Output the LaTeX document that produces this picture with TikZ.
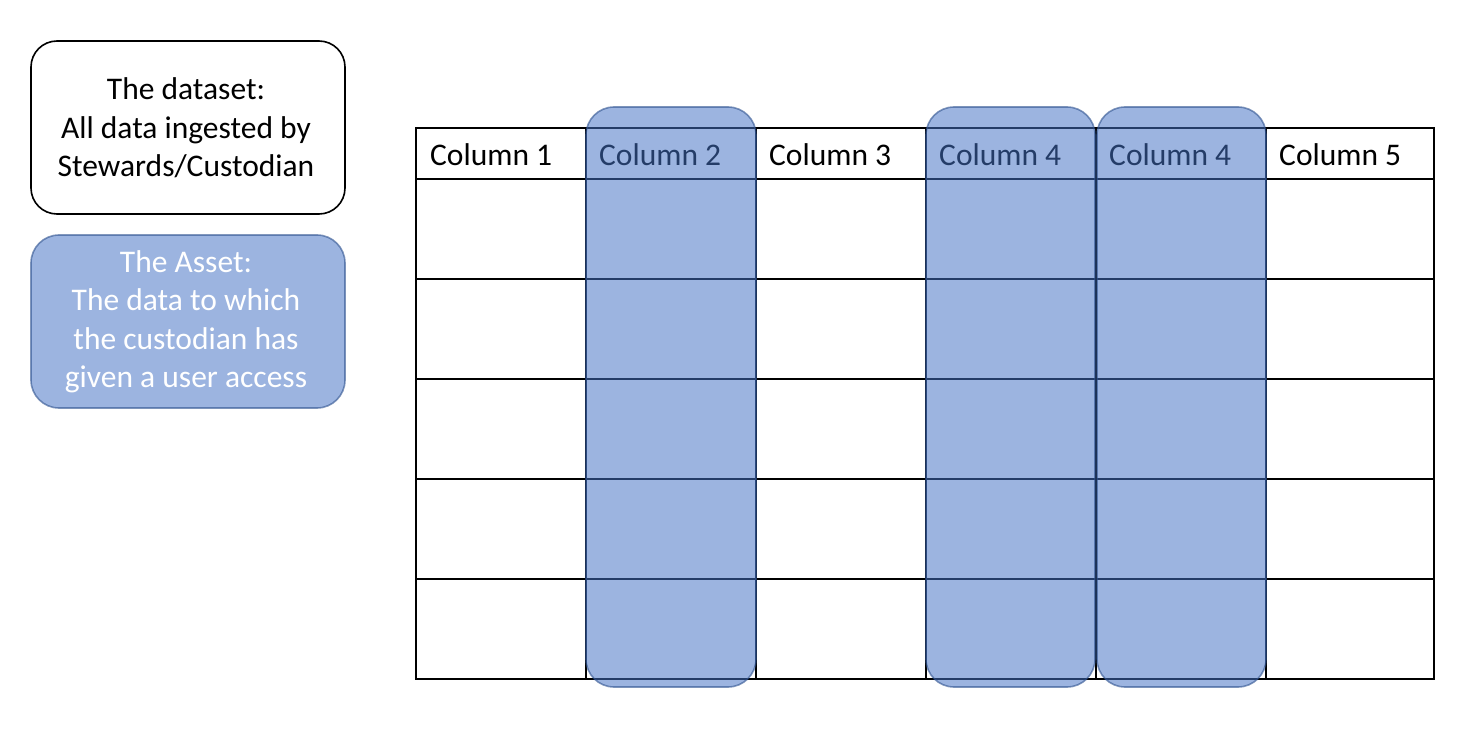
\documentclass[tikz,border=0pt]{standalone}
\usepackage{fontspec}
\setmainfont{Carlito}
\definecolor{assetfill}{HTML}{4472C4}
\definecolor{assetline}{HTML}{2F528F}
\tikzset{
  gridline/.style={draw=black, line width=1.6pt},
  legendbox/.style={draw=black, line width=1.6pt, rounded corners=26pt},
  assetbox/.style={fill=assetfill, fill opacity=0.53, draw=assetline, draw opacity=0.6, line width=1.6pt, rounded corners=28pt},
  headlabel/.style={anchor=west, inner sep=0pt, font=\fontsize{31.5}{36}\selectfont},
  boxtext/.style={align=center, inner sep=0pt, font=\fontsize{31.5}{38.5}\selectfont},
}
\begin{document}
\begin{tikzpicture}[x=1pt, y=-1pt]
\useasboundingbox (0,0) rectangle (1480,730);
% legend boxes
\draw[legendbox] (31,41) rectangle (345,214);
\node[boxtext] (dataset) at (186,128) {The dataset:\\All data ingested by\\Stewards/Custodian};
\draw[assetbox] (31,235) rectangle (345,408);
\node[boxtext, text=white] (asset) at (186,322) {The Asset:\\The data to which\\the custodian has\\given a user access};
% table
\draw[gridline] (416,128) rectangle (1434,679);
\foreach \y in {179,279,379,479,579} \draw[gridline] (416,\y) -- (1434,\y);
\foreach \x in {586,756,926,1096,1266} \draw[gridline] (\x,128) -- (\x,679);
\node[headlabel] (c1) at (430,155) {Column 1};
\node[headlabel] (c2) at (599,155) {Column 2};
\node[headlabel] (c3) at (769,155) {Column 3};
\node[headlabel] (c4) at (939,155) {Column 4};
\node[headlabel] (c4b) at (1109,155) {Column 4};
\node[headlabel] (c5) at (1279,155) {Column 5};
% asset columns
\draw[assetbox] (586,107) rectangle (756,687);
\draw[assetbox] (926,107) rectangle (1095,687);
\draw[assetbox] (1097,107) rectangle (1266,687);
\end{tikzpicture}
\end{document}
